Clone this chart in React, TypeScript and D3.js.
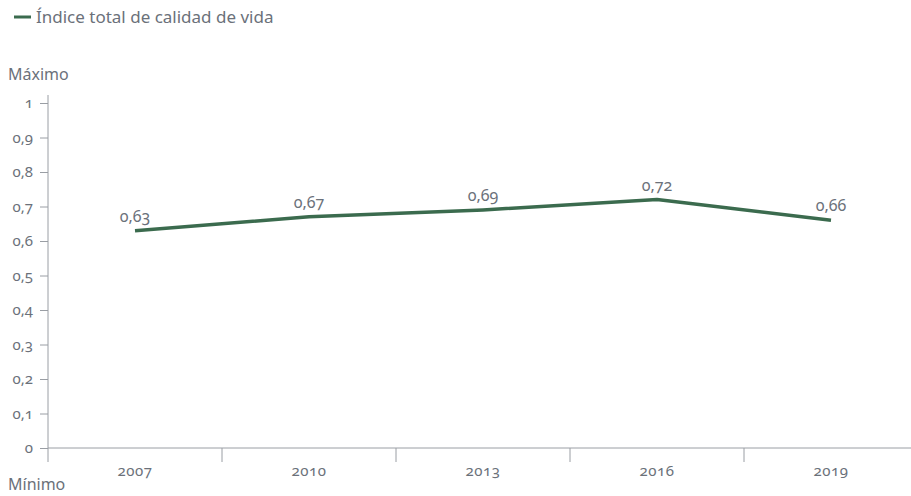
import React, { useEffect, useRef } from "react";
import * as d3 from "d3";

const years = ["2007", "2010", "2013", "2016", "2019"];
const indexValues = [0.63, 0.67, 0.69, 0.72, 0.66];
const yTicks = [0, 0.1, 0.2, 0.3, 0.4, 0.5, 0.6, 0.7, 0.8, 0.9, 1];
const seriesName = "Índice total de calidad de vida";

const App: React.FC = () => {
  const svgRef = useRef<SVGSVGElement>(null);

  useEffect(() => {
    const width = 911;
    const height = 496;
    const left = 48;
    const font = "'Noto Sans', sans-serif";
    const grey = "#6b717a";
    const axisGrey = "#9a9ea4";
    const green = "#3b6b4e";

    const svg = d3.select(svgRef.current).attr("width", width).attr("height", height);
    svg.selectAll("*").remove();

    const x = d3.scaleBand<string>().domain(years).range([left, 918]);
    const y = d3.scaleLinear().domain([0, 1]).range([448, 103]);
    const fmt = (v: number) => d3.format(".2~f")(v).replace(".", ",");

    // legend
    const legend = svg.append("g");
    legend.append("line").attr("x1", 14).attr("x2", 31).attr("y1", 17).attr("y2", 17)
      .attr("stroke", green).attr("stroke-width", 3);
    legend.append("text").attr("x", 36).attr("y", 23).text(seriesName)
      .style("font-family", font).style("font-size", "17px").attr("fill", grey);

    svg.append("text").attr("x", 8).attr("y", 80).text("Máximo")
      .style("font-family", font).style("font-size", "16px").attr("fill", grey);
    svg.append("text").attr("x", 8).attr("y", 490).text("Mínimo")
      .style("font-family", font).style("font-size", "16px").attr("fill", grey);

    // y axis
    const yAxis = svg.append("g").attr("transform", `translate(${left},0)`)
      .call(d3.axisLeft(y).tickValues(yTicks).tickFormat(d => fmt(+d)).tickSize(8).tickPadding(7));
    yAxis.select(".domain").remove();
    yAxis.append("line").attr("x1", 0).attr("x2", 0).attr("y1", 95).attr("y2", 462)
      .attr("stroke", axisGrey).attr("stroke-width", 1);
    yAxis.selectAll(".tick line").attr("stroke", axisGrey);
    yAxis.selectAll(".tick text").attr("fill", grey)
      .style("font-family", font).style("font-size", "15px")
      .style("font-feature-settings", "'onum'");

    // x axis
    const xAxis = svg.append("g").attr("transform", `translate(0,448)`);
    xAxis.append("line").attr("x1", left).attr("x2", width).attr("y1", 0).attr("y2", 0)
      .attr("stroke", axisGrey);
    xAxis.selectAll(".sep").data(years.slice(1)).enter().append("line")
      .attr("x1", d => x(d)!).attr("x2", d => x(d)!).attr("y1", 0).attr("y2", 14)
      .attr("stroke", axisGrey);
    xAxis.selectAll(".lbl").data(years).enter().append("text")
      .attr("x", d => x(d)! + x.bandwidth() / 2).attr("y", 28)
      .attr("text-anchor", "middle").text(d => d)
      .attr("fill", grey).style("font-family", font).style("font-size", "15px")
      .style("font-feature-settings", "'onum'").style("letter-spacing", "0.5px");

    // line
    const data = years.map((yr, i) => ({ yr, v: indexValues[i] }));
    const line = d3.line<{ yr: string; v: number }>()
      .x(d => x(d.yr)! + x.bandwidth() / 2)
      .y(d => y(d.v));
    svg.append("path").datum(data).attr("d", line).attr("fill", "none")
      .attr("stroke", green).attr("stroke-width", 3.5).attr("stroke-linejoin", "round");

    svg.selectAll(".val").data(data).enter().append("text")
      .attr("x", d => x(d.yr)! + x.bandwidth() / 2)
      .attr("y", d => y(d.v) - 9)
      .attr("text-anchor", "middle").text(d => fmt(d.v))
      .attr("fill", grey).style("font-family", font).style("font-size", "16px")
      .style("font-feature-settings", "'onum'");
  }, []);

  return (
    <div>
      <svg ref={svgRef} style={{ position: "absolute", left: 0, top: 0 }}></svg>
    </div>
  );
};

export default App;
